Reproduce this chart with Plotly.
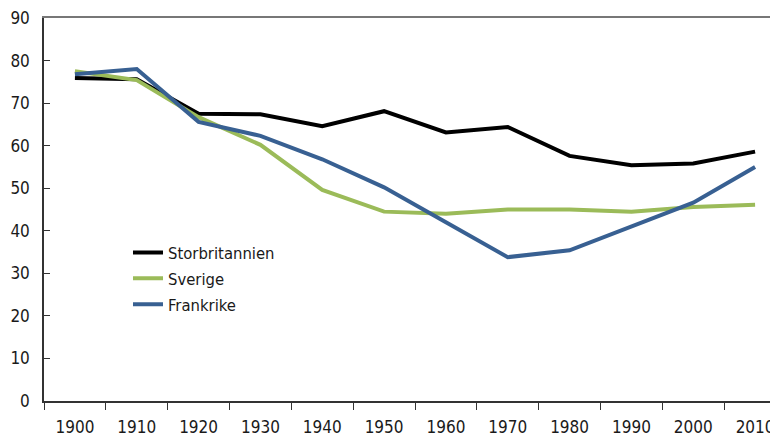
import plotly.graph_objects as go

years = ["1900", "1910", "1920", "1930", "1940", "1950", "1960", "1970", "1980", "1990", "2000", "2010"]
storbritannien = [75.9, 75.6, 67.5, 67.4, 64.6, 68.1, 63.1, 64.4, 57.6, 55.4, 55.8, 58.6]
sverige = [77.5, 75.4, 66.7, 60.2, 49.6, 44.5, 44.0, 45.0, 45.0, 44.5, 45.6, 46.1]
frankrike = [76.8, 78.0, 65.6, 62.3, 56.8, 50.2, 42.0, 33.8, 35.4, 40.9, 46.6, 55.0]

series_names = ["Storbritannien", "Sverige", "Frankrike"]
series_colors = ["#000000", "#9BBB59", "#386092"]

FONT = "DejaVu Sans Condensed, Liberation Sans Narrow, sans-serif"

fig = go.Figure()
for name, vals, col in zip(series_names, [storbritannien, sverige, frankrike], series_colors):
    fig.add_trace(go.Scatter(x=years, y=vals, name=name, mode="lines", legendgroup=name,
                             line=dict(color=col, width=4)))

# invisible trace for top frame axis
fig.add_trace(go.Scatter(x=years, y=storbritannien, xaxis="x2", showlegend=False,
                         mode="lines", line=dict(width=0), hoverinfo="skip", opacity=0))

XR = [-0.5, 11.5]
fig.update_layout(
    width=778, height=442,
    margin=dict(l=36, r=0, t=10, b=49, autoexpand=False),
    paper_bgcolor="white", plot_bgcolor="white",
    font=dict(family=FONT, size=17, color="#1a1a1a"),
    showlegend=True,
    legend=dict(x=0.1132, y=0.433, xanchor="left", yanchor="top",
                font=dict(family=FONT, size=16.5, color="#1a1a1a"),
                bgcolor="rgba(0,0,0,0)", tracegroupgap=1.5),
    xaxis=dict(type="category", categoryorder="array", categoryarray=years,
               range=XR, tickson="boundaries", ticks="outside",
               ticklen=7, tickwidth=1, tickcolor="#333", showline=True,
               linecolor="#333", linewidth=1.5, showgrid=False, automargin=False,
               tickfont=dict(size=17), zeroline=False, ticklabelstandoff=10,
               ticklabeloverflow="allow"),
    xaxis2=dict(type="category", categoryorder="array", categoryarray=years,
                range=XR, overlaying="x", side="top", showline=True,
                linecolor="#777", linewidth=1.5, showticklabels=False, ticks="",
                showgrid=False, automargin=False),
    yaxis=dict(range=[0, 90], dtick=10, ticks="inside", ticklen=6, tickwidth=1,
               tickcolor="#333", showline=True, linecolor="#333", linewidth=1.5,
               showgrid=False, zeroline=False, tickfont=dict(size=17),
               ticklabelstandoff=9, automargin=False, ticklabeloverflow="allow"),
)

fig.write_html("out.html")
